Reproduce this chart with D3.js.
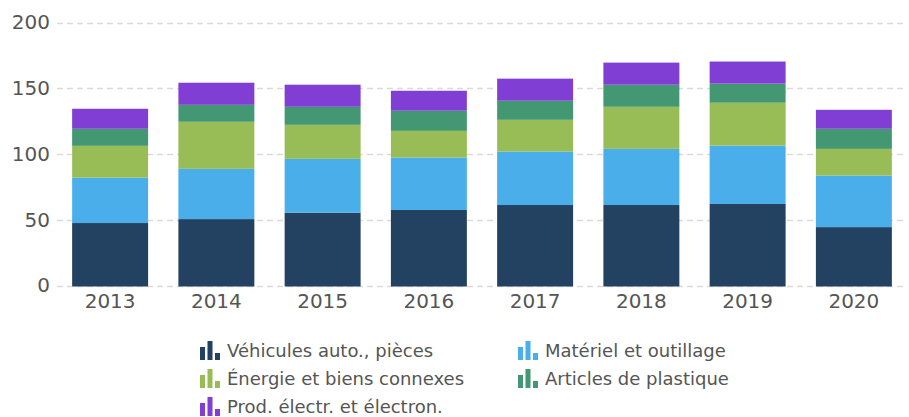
<!DOCTYPE html>
<html>
<head>
<meta charset="utf-8">
<script src="https://d3js.org/d3.v7.min.js"></script>
<style>
	body { margin: 0; background: #fff; }
	svg { display: block; font-family: "DejaVu Sans", Verdana, sans-serif; }
	.grid line { stroke: #dadada; stroke-width: 1.5px; stroke-dasharray: 6,4; }
	.axis text { fill: #555; font-size: 20px; font-family: "DejaVu Sans", Verdana, sans-serif; }
	.legend text { fill: #555; font-size: 18px; }
</style>
</head>
<body>
<svg class="chart" width="909" height="417"></svg>
<script>
// data
var years = ["2013", "2014", "2015", "2016", "2017", "2018", "2019", "2020"];
var seriesNames = ["Véhicules auto., pièces", "Matériel et outillage", "Énergie et biens connexes", "Articles de plastique", "Prod. électr. et électron."];
var vehicules = [47.5, 50.5, 55.4, 57.4, 61.2, 61.2, 62.0, 44.4];
var materiel  = [34.5, 38.2, 40.9, 39.9, 40.7, 42.7, 44.4, 39.2];
var energie   = [24.2, 35.8, 25.9, 20.3, 24.1, 32.0, 32.6, 20.3];
var plastique = [13.0, 12.9, 13.7, 15.3, 14.5, 16.8, 14.5, 15.3];
var electr    = [15.2, 16.8, 16.8, 15.2, 16.8, 16.8, 16.8, 14.4];
var yTicks = [0, 50, 100, 150, 200];

var colors = ["#234160", "#49aeea", "#98bd57", "#439772", "#803ed5"];
var allSeries = [vehicules, materiel, energie, plastique, electr];

var rows = years.map(function(y, i) {
	var r = {year: y};
	seriesNames.forEach(function(n, k) { r[n] = allSeries[k][i]; });
	return r;
});

var svg = d3.select(".chart");

var x = d3.scaleBand()
	.domain(years)
	.range([57, 907])
	.paddingInner(0.285)
	.paddingOuter(0.1425);

var y = d3.scaleLinear()
	.domain([0, 200])
	.range([285.5, 22.5]);

// gridlines
svg.append("g").attr("class", "grid")
	.selectAll("line")
	.data(yTicks)
	.enter().append("line")
	.attr("x1", 57).attr("x2", 907)
	.attr("y1", function(d) { return Math.round(y(d)) + 0.5; })
	.attr("y2", function(d) { return Math.round(y(d)) + 0.5; });

// y axis labels
var yAxis = d3.axisLeft(y).tickValues(yTicks).tickSize(0).tickPadding(7);
var yg = svg.append("g").attr("class", "axis").attr("transform", "translate(57,0)").call(yAxis);
yg.select(".domain").remove();
yg.selectAll("text").attr("font-family", null).attr("font-size", null);

// stacked bars
var stack = d3.stack().keys(seriesNames);
var layers = stack(rows);

svg.append("g").selectAll("g")
	.data(layers)
	.enter().append("g")
	.attr("fill", function(d, i) { return colors[i]; })
	.selectAll("rect")
	.data(function(d) { return d; })
	.enter().append("rect")
	.attr("x", function(d) { return x(d.data.year); })
	.attr("width", x.bandwidth())
	.attr("y", function(d) { return y(d[1]); })
	.attr("height", function(d) { return y(d[0]) - y(d[1]) + (d[0] === 0 ? 1 : 0); });

// x axis labels
var xAxis = d3.axisBottom(x).tickSize(0).tickPadding(8);
var xg = svg.append("g").attr("class", "axis").attr("transform", "translate(0,286)").call(xAxis);
xg.select(".domain").remove();
xg.selectAll("text").attr("font-family", null).attr("font-size", null);

// legend
var legendPos = [[200, 357], [518, 357], [200, 385], [518, 385], [200, 413]];
var legend = svg.append("g").attr("class", "legend")
	.selectAll("g")
	.data(seriesNames)
	.enter().append("g")
	.attr("transform", function(d, i) { return "translate(" + legendPos[i][0] + "," + legendPos[i][1] + ")"; });

var iconBars = [[0, 13], [7.5, 19], [15, 7]];
iconBars.forEach(function(b) {
	legend.append("rect")
		.attr("x", b[0]).attr("width", 5)
		.attr("y", 3 - b[1]).attr("height", b[1])
		.attr("fill", function(d, i) { return colors[i]; });
});

legend.append("text")
	.attr("x", 27)
	.attr("y", 0)
	.text(function(d) { return d; });
</script>
</body>
</html>
